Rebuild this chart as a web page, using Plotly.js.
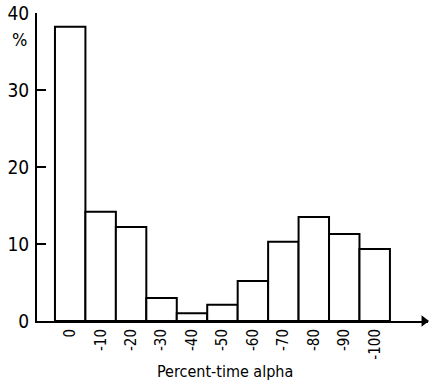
<!DOCTYPE html>
<html><head><meta charset="utf-8">
<script src="https://cdn.plot.ly/plotly-3.0.1.min.js"></script>
<style>html,body{margin:0;padding:0;background:#fff}</style>
</head><body>
<div id="chart" style="width:430px;height:386px"></div>
<script>
const categories = ["0","-10","-20","-30","-40","-50","-60","-70","-80","-90","-100"];
const percentValues = [38.2, 14.2, 12.2, 3.0, 1.0, 2.1, 5.2, 10.3, 13.5, 11.3, 9.35];
const yTickValues = [0, 10, 20, 30, 40];
const yTickLabels = ["0", "10", "20", "30", "40"];

const positions = categories.map((c, i) => i);
const font = "DejaVu Sans Condensed, DejaVu Sans, sans-serif";

const traces = [
  {
    type: "bar",
    x: positions,
    y: percentValues,
    width: 1,
    marker: {color: "#ffffff", line: {color: "#000", width: 2}},
    hoverinfo: "skip"
  },
  {
    type: "scatter",
    mode: "markers",
    x: [11.62],
    y: [0],
    marker: {symbol: "triangle-right", size: 10, color: "#000"},
    cliponaxis: false,
    hoverinfo: "skip"
  }
];

const layout = {
  width: 430, height: 386,
  margin: {l: 37, r: 2, t: 13, b: 65},
  paper_bgcolor: "#fff", plot_bgcolor: "#fff",
  showlegend: false,
  bargap: 0,
  font: {family: font, color: "#000"},
  xaxis: {
    range: [-1.09, 11.75],
    tickmode: "array",
    tickvals: positions,
    ticktext: categories,
    tickangle: -90,
    ticks: "",
    showgrid: false, zeroline: false,
    showline: true, linecolor: "#000", linewidth: 2,
    tickfont: {size: 15, family: font},
    ticklabelstandoff: 0
  },
  yaxis: {
    range: [0, 40],
    tickmode: "array",
    tickvals: yTickValues,
    ticktext: yTickLabels,
    ticks: "inside", ticklen: 9, tickwidth: 1.5, tickcolor: "#000",
    showgrid: false, zeroline: false,
    showline: true, linecolor: "#000", linewidth: 2,
    tickfont: {size: 19, family: font},
    ticklabelstandoff: 2
  },
  annotations: [
    {text: "%", xref: "paper", yref: "paper", x: -0.045, y: 0.915, xanchor: "center", yanchor: "middle",
     showarrow: false, font: {size: 18, family: font}},
    {text: "Percent-time alpha", xref: "paper", yref: "paper", x: 0.48, y: -0.128, xanchor: "center", yanchor: "top",
     showarrow: false, font: {size: 16, family: font}}
  ]
};

Plotly.newPlot("chart", traces, layout, {displayModeBar: false, staticPlot: true});
</script>
</body></html>
